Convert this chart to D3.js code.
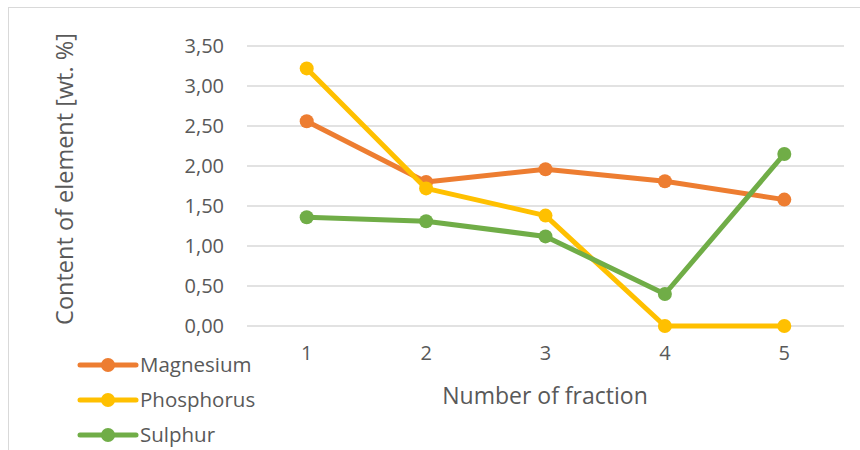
<!DOCTYPE html>
<html>
<head>
<meta charset="utf-8">
<script src="https://cdn.jsdelivr.net/npm/d3@7"></script>
<style>
  html, body { margin: 0; padding: 0; background: #fff; }
  svg { display: block; font-family: "Open Sans", "Noto Sans", sans-serif; }
</style>
</head>
<body>
<svg id="chart" width="860" height="450"></svg>
<script>
// Fractions on the x axis
const fractions = ["1", "2", "3", "4", "5"];
// Element content per fraction, wt. %
const magnesium = [2.56, 1.80, 1.96, 1.81, 1.58];
const phosphorus = [3.22, 1.72, 1.38, 0.00, 0.00];
const sulphur = [1.36, 1.31, 1.12, 0.40, 2.15];
// Value axis ticks
const yTicks = [0, 0.5, 1, 1.5, 2, 2.5, 3, 3.5];

const seriesNames = ["Magnesium", "Phosphorus", "Sulphur"];
const seriesColors = ["#ED7D31", "#FFC000", "#70AD47"];
const seriesValues = [magnesium, phosphorus, sulphur];

const svg = d3.select("#chart");
const fmt = v => d3.format(".2f")(v).replace(".", ",");

// Chart frame
svg.append("rect")
  .attr("x", 8.5).attr("y", 7.5)
  .attr("width", 880).attr("height", 480)
  .attr("fill", "#fff").attr("stroke", "#d9d9d9").attr("stroke-width", 1);

const plot = { left: 247, right: 844, top: 46, bottom: 326 };

const x = d3.scaleBand().domain(fractions).range([plot.left, plot.right]);
const y = d3.scaleLinear().domain([0, 3.5]).range([plot.bottom, plot.top]);

// Horizontal gridlines
svg.append("g")
  .selectAll("line")
  .data(yTicks)
  .join("line")
  .attr("x1", plot.left).attr("x2", plot.right)
  .attr("y1", d => y(d)).attr("y2", d => y(d))
  .attr("stroke", "#d9d9d9").attr("stroke-width", 1.3);

// Y axis labels
const yAxis = d3.axisLeft(y).tickValues(yTicks).tickFormat(fmt).tickSize(0).tickPadding(0);
const gy = svg.append("g").attr("transform", "translate(224,0)").call(yAxis);
gy.select(".domain").remove();
gy.selectAll("text")
  .attr("fill", "#595959").attr("font-size", 20)
  .attr("font-family", "\"Open Sans\", sans-serif");

// X axis labels
const xAxis = d3.axisBottom(x).tickSize(0).tickPadding(0);
const gx = svg.append("g").attr("transform", "translate(0,346)").call(xAxis);
gx.select(".domain").remove();
gx.selectAll("text")
  .attr("fill", "#595959").attr("font-size", 20)
  .attr("font-family", "\"Open Sans\", sans-serif");

// Axis titles
svg.append("text")
  .attr("x", 545).attr("y", 404)
  .attr("text-anchor", "middle")
  .attr("fill", "#595959").attr("font-size", 23)
  .text("Number of fraction");

svg.append("text")
  .attr("transform", "translate(73,179) rotate(-90)")
  .attr("text-anchor", "middle")
  .attr("fill", "#595959").attr("font-size", 23.5)
  .text("Content of element [wt. %]");

// Series lines and markers
const line = d3.line()
  .x((d, i) => x(fractions[i]) + x.bandwidth() / 2)
  .y(d => y(d));

seriesValues.forEach((vals, s) => {
  const g = svg.append("g");
  g.append("path")
    .attr("d", line(vals))
    .attr("fill", "none")
    .attr("stroke", seriesColors[s])
    .attr("stroke-width", 5)
    .attr("stroke-linejoin", "round");
  g.selectAll("circle")
    .data(vals)
    .join("circle")
    .attr("cx", (d, i) => x(fractions[i]) + x.bandwidth() / 2)
    .attr("cy", d => y(d))
    .attr("r", 7)
    .attr("fill", seriesColors[s]);
});

// Legend
const legend = svg.append("g");
seriesNames.forEach((name, i) => {
  const ly = 365 + i * 35;
  legend.append("line")
    .attr("x1", 80).attr("x2", 136)
    .attr("y1", ly).attr("y2", ly)
    .attr("stroke", seriesColors[i]).attr("stroke-width", 5)
    .attr("stroke-linecap", "round");
  legend.append("circle")
    .attr("cx", 108).attr("cy", ly).attr("r", 7)
    .attr("fill", seriesColors[i]);
  legend.append("text")
    .attr("x", 140).attr("y", ly)
    .attr("dy", "0.35em")
    .attr("fill", "#595959").attr("font-size", 20.5)
    .text(name);
});
</script>
</body>
</html>
